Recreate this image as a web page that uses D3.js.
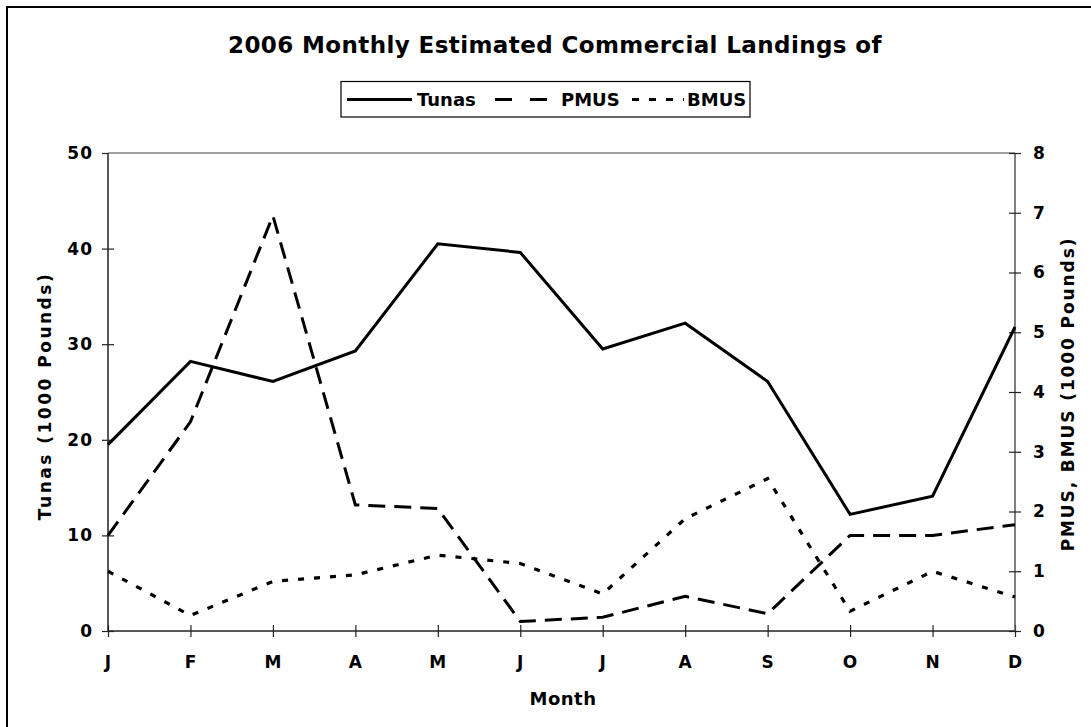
<!DOCTYPE html>
<html>
<head>
<meta charset="utf-8">
<script src="https://cdn.jsdelivr.net/npm/d3@7"></script>
<style>
  body { margin: 0; background: #fff; }
  text { font-family: "DejaVu Sans", Verdana, sans-serif; font-weight: bold; fill: #000; }
</style>
</head>
<body>
<div id="chart"></div>
<script>
// DATA
months = ["J", "F", "M", "A", "M", "J", "J", "A", "S", "O", "N", "D"];
tunas = [19.5, 28.2, 26.1, 29.3, 40.5, 39.6, 29.5, 32.2, 26.1, 12.2, 14.1, 31.8];
pmus  = [1.6, 3.5, 6.95, 2.11, 2.05, 0.16, 0.23, 0.58, 0.29, 1.6, 1.6, 1.78];
bmus  = [1.0, 0.26, 0.83, 0.94, 1.27, 1.13, 0.62, 1.88, 2.55, 0.33, 1.0, 0.57];
leftTicks = [0, 10, 20, 30, 40, 50];
rightTicks = [0, 1, 2, 3, 4, 5, 6, 7, 8];

// CHART SIZE
W = 1091, H = 727;
margin = {top: 153, right: 76, bottom: 96, left: 108};
width = W - margin.left - margin.right,
height = H - margin.top - margin.bottom;

svg = d3.select("#chart")
  .append("svg")
    .attr("width", W)
    .attr("height", H);

// OUTER BORDER
svg.append("rect")
  .attr("x", 7).attr("y", 7)
  .attr("width", W).attr("height", H)
  .attr("fill", "none")
  .attr("stroke", "#000")
  .attr("stroke-width", 2);

g = svg.append("g")
  .attr("transform", "translate(" + margin.left + "," + margin.top + ")");

// SCALES
x = d3.scalePoint()
  .domain(d3.range(months.length))
  .range([0, width]);

yL = d3.scaleLinear().domain([0, 50]).range([height, 0]);
yR = d3.scaleLinear().domain([0, 8]).range([height, 0]);

// PLOT TOP BORDER
g.append("line")
  .attr("x1", 0).attr("x2", width)
  .attr("y1", 0).attr("y2", 0)
  .attr("stroke", "#808080")
  .attr("stroke-width", 1.5);

// AXES
function styleAxis(sel) {
  sel.select(".domain").attr("stroke", "#222").attr("stroke-width", 1.5);
  sel.selectAll(".tick line").attr("stroke", "#222").attr("stroke-width", 1.2);
  sel.selectAll(".tick text")
    .attr("font-size", "17px")
    .attr("letter-spacing", "1px")
    .attr("font-family", "DejaVu Sans, Verdana, sans-serif")
    .attr("font-weight", "bold")
    .attr("fill", "#000");
}

xAxis = g.append("g")
  .attr("transform", "translate(0," + height + ")")
  .call(d3.axisBottom(x).tickSize(0).tickPadding(0).tickFormat(function(i) { return months[i]; }));
xAxis.selectAll(".tick line").remove();
xAxis.selectAll(".tick").append("line")
  .attr("y1", -6).attr("y2", 6);
xAxis.selectAll(".tick text").attr("y", 37).attr("dy", 0);
styleAxis(xAxis);
xAxis.select(".domain").attr("d", "M0,0H" + width);

leftAxis = g.append("g")
  .call(d3.axisLeft(yL).tickValues(leftTicks).tickSize(0).tickPadding(15));
leftAxis.selectAll(".tick").append("line")
  .attr("x1", -6)
  .attr("x2", function(d) { return d == 50 ? 0 : 6; });
styleAxis(leftAxis);
leftAxis.select(".domain").attr("d", "M0,0V" + height);

rightAxis = g.append("g")
  .attr("transform", "translate(" + width + ",0)")
  .call(d3.axisRight(yR).tickValues(rightTicks).tickSize(0).tickPadding(18));
rightAxis.selectAll(".tick").append("line")
  .attr("x1", -6).attr("x2", 6);
styleAxis(rightAxis);
rightAxis.select(".domain").attr("d", "M0,0V" + height).attr("stroke", "#555");

// LINES
lineL = d3.line()
  .x(function(d, i) { return x(i); })
  .y(function(d) { return yL(d); });
lineR = d3.line()
  .x(function(d, i) { return x(i); })
  .y(function(d) { return yR(d); });

g.append("path")
  .datum(bmus)
  .attr("d", lineR)
  .attr("fill", "none")
  .attr("stroke", "#000")
  .attr("stroke-width", 3.2)
  .attr("stroke-dasharray", "6,10");

g.append("path")
  .datum(pmus)
  .attr("d", lineR)
  .attr("fill", "none")
  .attr("stroke", "#000")
  .attr("stroke-width", 3)
  .attr("stroke-dasharray", "17,9");

g.append("path")
  .datum(tunas)
  .attr("d", lineL)
  .attr("fill", "none")
  .attr("stroke", "#000")
  .attr("stroke-width", 3)
  .attr("stroke-linejoin", "miter");

// TITLE
svg.append("text")
  .text("2006 Monthly Estimated Commercial Landings of")
  .attr("x", 555)
  .attr("y", 53)
  .attr("text-anchor", "middle")
  .attr("letter-spacing", "0.4px")
  .attr("font-size", "23px");

// AXIS TITLES
svg.append("text")
  .text("Tunas (1000 Pounds)")
  .attr("transform", "translate(51,396) rotate(-90)")
  .attr("text-anchor", "middle")
  .attr("letter-spacing", "2.5px")
  .attr("font-size", "17px");

svg.append("text")
  .text("PMUS, BMUS (1000 Pounds)")
  .attr("transform", "translate(1074,394) rotate(-90)")
  .attr("text-anchor", "middle")
  .attr("letter-spacing", "1.9px")
  .attr("font-size", "17px");

svg.append("text")
  .text("Month")
  .attr("x", 563)
  .attr("y", 705)
  .attr("text-anchor", "middle")
  .attr("letter-spacing", "0.5px")
  .attr("font-size", "18px");

// LEGEND
legendItems = [
  {name: "Tunas", dash: null, x1: 347, x2: 412, tx: 417},
  {name: "PMUS", dash: "17,18", x1: 495, x2: 548, tx: 561},
  {name: "BMUS", dash: "7,10", x1: 632, x2: 684, tx: 687}
];

legend = svg.append("g").attr("class", "legend");

legend.append("rect")
  .attr("x", 341).attr("y", 81.5)
  .attr("width", 409).attr("height", 35.5)
  .attr("fill", "#fff")
  .attr("stroke", "#000")
  .attr("stroke-width", 1.2);

legend.selectAll("line")
  .data(legendItems)
  .enter()
  .append("line")
    .attr("x1", function(d) { return d.x1; })
    .attr("x2", function(d) { return d.x2; })
    .attr("y1", 99.5).attr("y2", 99.5)
    .attr("stroke", "#000")
    .attr("stroke-width", 3)
    .attr("stroke-dasharray", function(d) { return d.dash; });

legend.selectAll("text")
  .data(legendItems)
  .enter()
  .append("text")
    .attr("x", function(d) { return d.tx; })
    .attr("y", 106)
    .attr("font-size", "18px")
    .text(function(d) { return d.name; });
</script>
</body>
</html>
